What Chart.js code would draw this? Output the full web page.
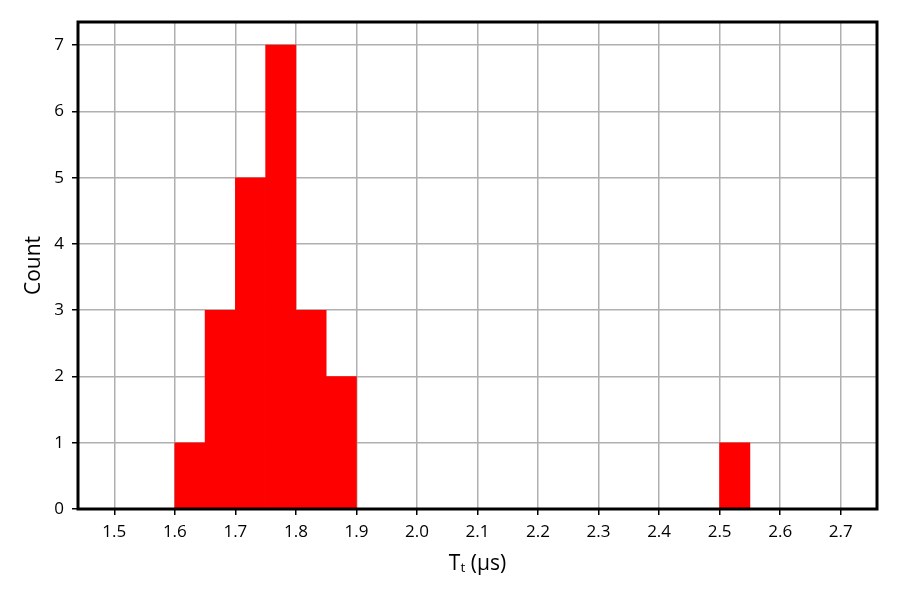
<!DOCTYPE html>
<html>
<head>
<meta charset="utf-8">
<script src="https://cdn.jsdelivr.net/npm/chart.js@4"></script>
<style>
  html, body { margin: 0; padding: 0; background: #fff; }
  #wrap { width: 900px; height: 600px; }
</style>
</head>
<body>
<div id="wrap"><canvas id="hist" width="900" height="600"></canvas></div>
<script>
// histogram bins (left edges, us) and counts
var binStarts = [1.60, 1.65, 1.70, 1.75, 1.80, 1.85, 2.50];
var counts = [1, 3, 5, 7, 3, 2, 1];
var binWidth = 0.05;
var xTicks = [1.5, 1.6, 1.7, 1.8, 1.9, 2.0, 2.1, 2.2, 2.3, 2.4, 2.5, 2.6, 2.7];
var yTicks = [0, 1, 2, 3, 4, 5, 6, 7];

var fontFam = "'Open Sans', sans-serif";

var frame = {
  id: 'frame',
  afterDatasetsDraw: function(chart) {
    var a = chart.chartArea, c = chart.ctx;
    c.save();
    c.strokeStyle = '#000';
    c.lineWidth = 3;
    c.strokeRect(a.left, a.top, a.right - a.left, a.bottom - a.top);
    c.restore();
  }
};

var ctx = document.getElementById("hist").getContext('2d');
var histChart = new Chart(ctx, {
  type: 'bar',
  plugins: [frame],
  data: {
    datasets: [{
      data: binStarts.map(function(s, i) { return {x: s + binWidth / 2, y: counts[i]}; }),
      backgroundColor: '#ff0000',
      borderWidth: 0,
      barPercentage: 1,
      categoryPercentage: 1
    }]
  },
  options: {
    responsive: false,
    animation: false,
    layout: { padding: { top: 22, right: 23, left: 0, bottom: 0 } },
    plugins: { legend: { display: false }, tooltip: { enabled: false } },
    scales: {
      x: {
        type: 'linear',
        offset: false,
        min: 1.44,
        max: 2.76,
        afterBuildTicks: function(s) { s.ticks = xTicks.map(function(v) { return {value: v}; }); },
        afterFit: function(s) { s.height = 91; },
        grid: { offset: false, color: '#b0b0b0', lineWidth: 1.5, tickLength: 6, tickColor: '#000', tickWidth: 1.5 },
        border: { display: false },
        ticks: {
          color: '#000',
          padding: 7,
          maxRotation: 0,
          font: { family: fontFam, size: 17 },
          callback: function(v) { return Number(v).toFixed(1); }
        },
        title: {
          display: true,
          text: 'Tₜ (μs)',
          color: '#000',
          font: { family: fontFam, size: 21 },
          padding: { top: 0, bottom: 23 }
        }
      },
      y: {
        min: 0,
        max: 7.35,
        afterBuildTicks: function(s) { s.ticks = yTicks.map(function(v) { return {value: v}; }); },
        afterFit: function(s) { s.width = 78; },
        grid: { color: '#b0b0b0', lineWidth: 1.5, tickLength: 6, tickColor: '#000', tickWidth: 1.5 },
        border: { display: false },
        ticks: {
          color: '#000',
          padding: 8,
          font: { family: fontFam, size: 17 }
        },
        title: {
          display: true,
          text: 'Count',
          color: '#000',
          font: { family: fontFam, size: 21 },
          padding: { top: 21, bottom: 0 }
        }
      }
    }
  }
});
</script>
</body>
</html>
